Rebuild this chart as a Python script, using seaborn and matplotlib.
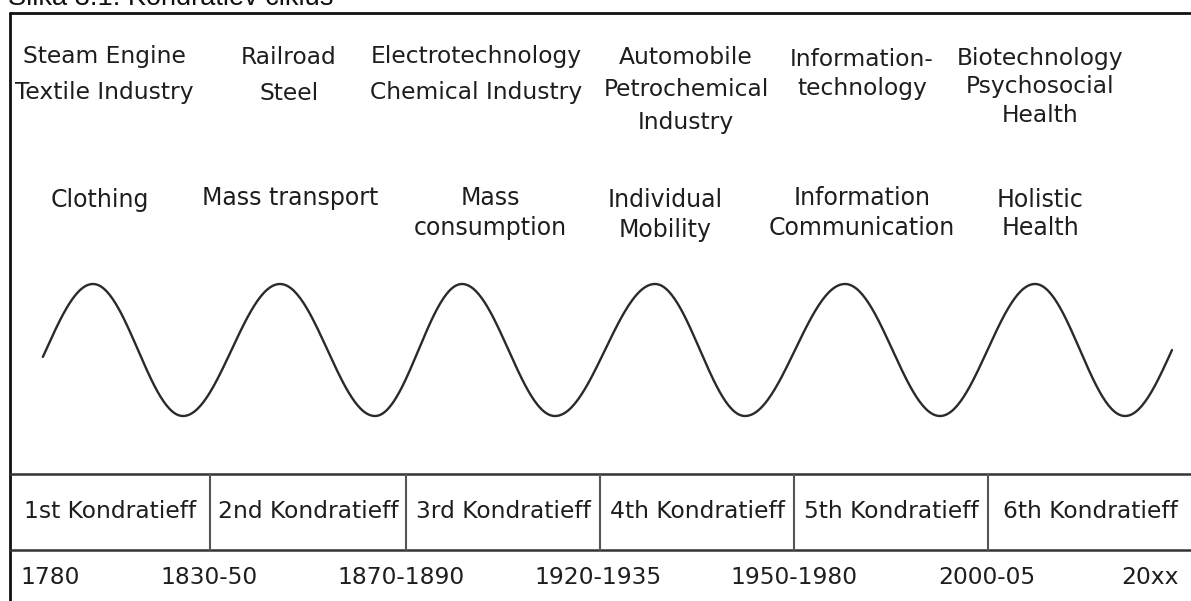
import matplotlib
matplotlib.use('Agg')
import matplotlib.pyplot as plt
import numpy as np
import pandas as pd
import seaborn as sns

# Kondratieff-Zyklen: Beschriftungen
technologies = ['Steam Engine\nTextile Industry', 'Railroad\nSteel',
                'Electrotechnology\nChemical Industry',
                'Automobile\nPetrochemical\nIndustry',
                'Information-\ntechnology',
                'Biotechnology\nPsychosocial\nHealth']
needs = ['Clothing', 'Mass transport', 'Mass\nconsumption',
         'Individual\nMobility', 'Information\nCommunication',
         'Holistic\nHealth']
cycles = ['1st Kondratieff', '2nd Kondratieff', '3rd Kondratieff',
          '4th Kondratieff', '5th Kondratieff', '6th Kondratieff']
years = ['1780', '1830-50', '1870-1890', '1920-1935', '1950-1980',
         '2000-05', '20xx']

# Welle: Extrempunkte (x in Pixel, Niveau 1 = Hoch, 0 = Tief)
wave_ext_x = [-1, 93, 183, 280, 375, 462, 555, 655, 745, 845, 940, 1035, 1125, 1219]
wave_ext_level = [0, 1, 0, 1, 0, 1, 0, 1, 0, 1, 0, 1, 0, 1]
wave_start, wave_end = 42, 1173

# Layout (Pixel)
W, H = 1191, 601
y_high, y_low = 284, 416
tech_x = [104, 289, 476, 686, 862, 1040]
tech_y = [57, 57, 57, 58, 59, 59]
tech_step = [36, 36, 36, 32, 29, 28]
need_x = [100, 290, 490, 665, 862, 1040]
need_y = [200, 198, 198, 200, 198, 200]
need_step = [30, 30, 30, 30, 30, 28]
dividers = [210, 406, 600, 794, 988]
cycle_x = [110, 308, 503, 697, 891, 1090]
year_x = [50, 209, 401, 598, 794, 987, 1150]

txt_col = '#1e1e1e'
line_col = '#333333'

# Wellenpunkte zwischen den Extrema (Halbkosinus)
xs, ys = [], []
for i in range(len(wave_ext_x) - 1):
    x0, x1 = wave_ext_x[i], wave_ext_x[i + 1]
    l0, l1 = wave_ext_level[i], wave_ext_level[i + 1]
    t = np.linspace(0, 1, 60, endpoint=False)
    xx = x0 + (x1 - x0) * t
    lv = l0 + (l1 - l0) * (1 - np.cos(np.pi * t)) / 2
    xs.extend(xx)
    ys.extend(y_low + (y_high - y_low) * lv)
wave = pd.DataFrame({'x': xs, 'y': ys})
wave = wave[(wave['x'] >= wave_start) & (wave['x'] <= wave_end)]

sns.set_style('white')
fig = plt.figure(figsize=(W / 100, H / 100), dpi=100)
ax = fig.add_axes([0, 0, 1, 1])
ax.set_xlim(0, W)
ax.set_ylim(H, 0)
ax.axis('off')

sns.lineplot(data=wave, x='x', y='y', ax=ax, color='#2a2a2a', linewidth=1.7,
             sort=False, estimator=None)


def draw_lines(x, y0, step, text, size):
    for k, line in enumerate(text.split('\n')):
        ax.text(x, y0 + k * step, line, ha='center', va='center',
                fontsize=size, color=txt_col, family='DejaVu Sans')


for x, y, s, t in zip(tech_x, tech_y, tech_step, technologies):
    draw_lines(x, y, s, t, 16.8)
for x, y, s, t in zip(need_x, need_y, need_step, needs):
    draw_lines(x, y, s, t, 17)
for x, t in zip(cycle_x, cycles):
    draw_lines(x, 512, 0, t, 16.8)
for x, t in zip(year_x, years):
    draw_lines(x, 578, 0, t, 16.8)

# Rahmen
ax.plot([10, W], [13, 13], color='#111111', lw=2)
ax.plot([10, 10], [13, H], color='#111111', lw=2)
ax.plot([10, W], [474, 474], color=line_col, lw=1.8)
ax.plot([10, W], [550, 550], color=line_col, lw=1.8)
for d in dividers:
    ax.plot([d, d], [474, 550], color='#555555', lw=1.5)

# Abgeschnittener Titel oben (wie im Original am Rand beschnitten)
ax.text(8, 5, 'Slika 3.1: Kondratiev ciklus', ha='left', va='baseline',
        fontsize=19.5, color='#111111', family='Liberation Sans', clip_on=False)

fig.savefig('out.png', dpi=100, facecolor='white')
